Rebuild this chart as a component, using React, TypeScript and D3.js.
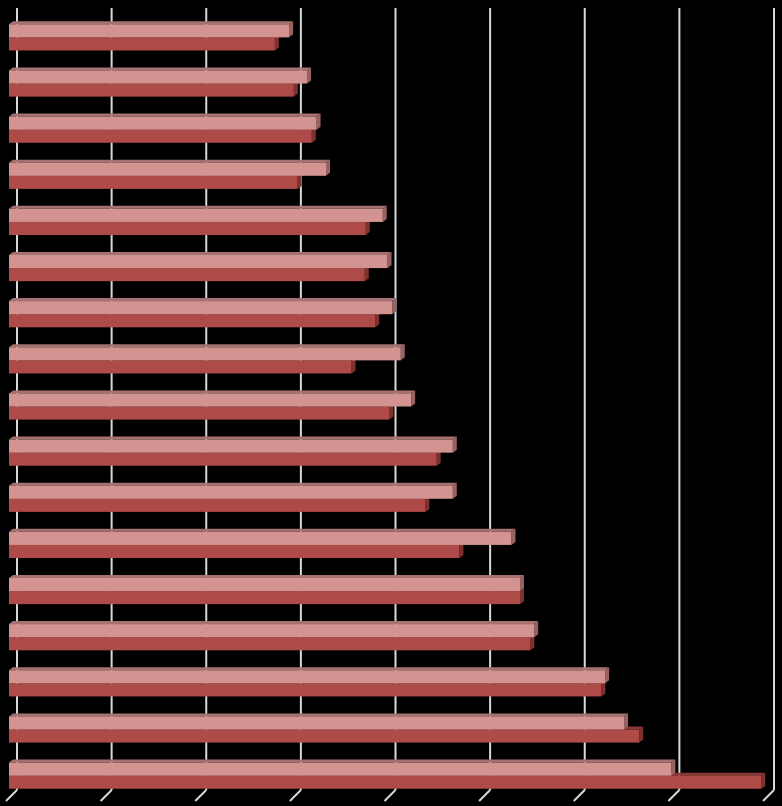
import React from "react";
import * as d3 from "d3";

const categories = [
  "Item 1", "Item 2", "Item 3", "Item 4", "Item 5", "Item 6", "Item 7", "Item 8", "Item 9",
  "Item 10", "Item 11", "Item 12", "Item 13", "Item 14", "Item 15", "Item 16", "Item 17",
];
const seriesA = [29.6, 31.5, 32.5, 33.5, 39.5, 40.0, 40.5, 41.4, 42.5, 46.9, 46.9, 53.1, 54.0, 55.5, 63.0, 65.0, 70.0];
const seriesB = [28.1, 30.1, 32.0, 30.5, 37.7, 37.6, 38.7, 36.2, 40.2, 45.2, 44.0, 47.6, 54.0, 55.1, 62.6, 66.6, 79.5];
const tickValues = [0, 10, 20, 30, 40, 50, 60, 70, 80];

const W = 782;
const H = 806;
const DX = 4;
const DY = 3;

const colorsA = { front: "#D29391", top: "#A57271", side: "#986463" };
const colorsB = { front: "#AE4A47", top: "#8A3836", side: "#7E3230" };

function Bar({ x0, x1, y, h, c }: { x0: number; x1: number; y: number; h: number; c: any }) {
  const top = `M${x0},${y} L${x0 + DX},${y - DY} L${x1 + DX},${y - DY} L${x1},${y} Z`;
  const side = `M${x1},${y} L${x1 + DX},${y - DY} L${x1 + DX},${y + h - DY} L${x1},${y + h} Z`;
  return (
    <g>
      <path d={top} fill={c.top} />
      <path d={side} fill={c.side} />
      <rect x={x0} y={y} width={Math.max(0, x1 - x0)} height={h} fill={c.front} />
    </g>
  );
}

export default function App() {
  const x = d3.scaleLinear().domain([0, 80]).range([9, 766]);
  const y = d3.scaleBand<string>().domain(categories).range([14.3, 798.7]).paddingInner(0.432).paddingOuter(0.216);
  const bh = y.bandwidth() / 2;
  const gridTop = 8;
  const gridBottom = 790;
  return (
    <svg width={W} height={H} style={{ position: "absolute", left: 0, top: 0, background: "#000" }}>
      <rect x={0} y={0} width={W} height={H} fill="#000" />
      {tickValues.map((t) => {
        const gx = x(t) + 8;
        return (
          <g key={t}>
            <line x1={gx} x2={gx} y1={gridTop} y2={gridBottom} stroke="#D9D9D9" strokeWidth={2} />
            <line x1={gx} x2={gx - 11} y1={gridBottom} y2={gridBottom + 11} stroke="#D9D9D9" strokeWidth={2} />
          </g>
        );
      })}
      {categories.map((cat, i) => {
        const y0 = y(cat) as number;
        return (
          <g key={cat}>
            <Bar x0={x(0)} x1={x(seriesB[i])} y={y0 + bh} h={bh} c={colorsB} />
            <Bar x0={x(0)} x1={x(seriesA[i])} y={y0} h={bh} c={colorsA} />
          </g>
        );
      })}
    </svg>
  );
}
